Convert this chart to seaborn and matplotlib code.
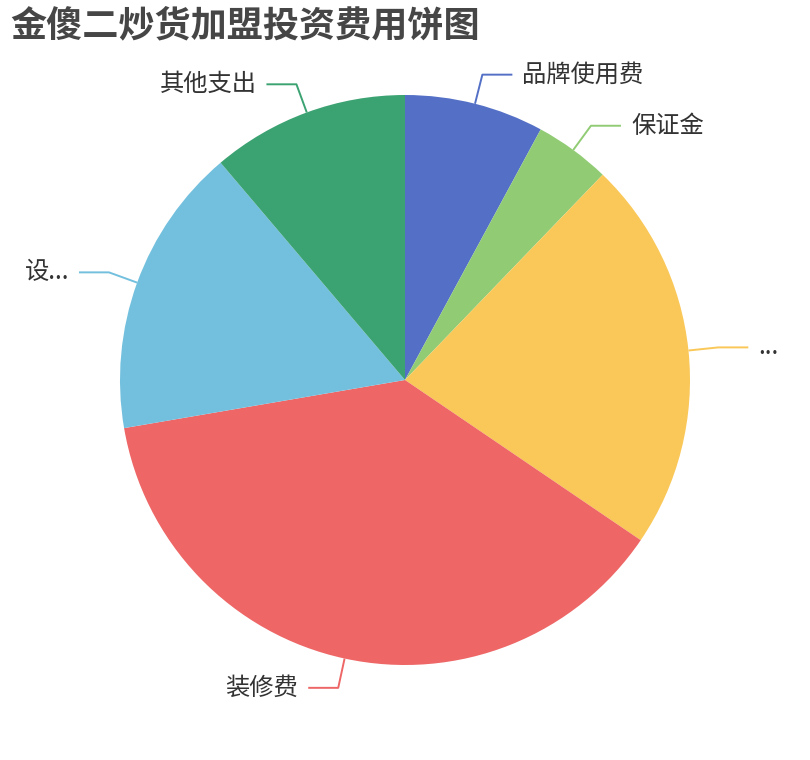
import matplotlib
matplotlib.use('Agg')
import matplotlib.pyplot as plt
import seaborn as sns
import numpy as np

title = '金傻二炒货加盟投资费用饼图'
names = ['品牌使用费', '保证金', '...', '装修费', '设...', '其他支出']
values = [7.9, 4.3, 22.3, 37.8, 16.5, 11.2]
colors = ['#5470c6', '#91cc75', '#fac858', '#ee6666', '#73c0de', '#3ba272']

sns.set_theme(style='white')
plt.rcParams['font.family'] = ['Noto Sans CJK SC', 'DejaVu Sans']

fig = plt.figure(figsize=(8.1, 7.6), dpi=100)
ax = fig.add_axes([0, 0, 1, 1])

# pie in pixel-like coords (y up)
cx, cy, r = 405, 380, 285
wedges, _ = ax.pie(values, colors=sns.color_palette(colors), startangle=90,
                   counterclock=False, center=(cx, cy), radius=r,
                   wedgeprops=dict(linewidth=0))
ax.set_xlim(0, 810)
ax.set_ylim(0, 760)
ax.set_aspect('equal')
ax.axis('off')

# echarts style label lines
for w, name, c in zip(wedges, names, colors):
    a = np.deg2rad((w.theta1 + w.theta2) / 2)
    ca, sa = np.cos(a), np.sin(a)
    x0, y0 = cx + r * ca, cy + r * sa
    x1, y1 = cx + (r + 30) * ca, cy + (r + 30) * sa
    side = 1 if ca >= 0 else -1
    x2 = x1 + 30 * side
    ax.plot([x0, x1, x2], [y0, y1, y1], color=c, lw=1.4, solid_capstyle='butt')
    ax.text(x2 + 10 * side, y1, name, ha='left' if side > 0 else 'right',
            va='center', fontsize=17.5, color='#333333')

fig.text(10 / 810, 1 - 26 / 760, title, fontsize=26, fontweight='bold',
         color='#464646', ha='left', va='center')

fig.savefig('out.png', dpi=100)
